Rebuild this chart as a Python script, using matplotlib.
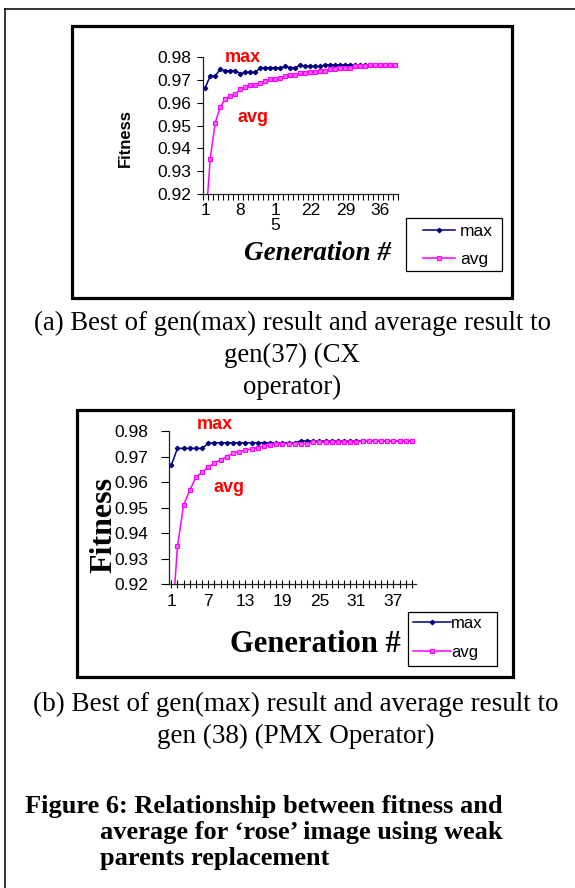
import matplotlib
matplotlib.use("Agg")
import matplotlib.pyplot as plt
import matplotlib.patches as mpatches
import matplotlib.lines as mlines
from matplotlib.ticker import FixedLocator, FixedFormatter

W, H = 575, 888

# ---- data: (a) CX operator ----
cx_gen = list(range(1, 40))
cx_max = [0.9665, 0.9716, 0.9716, 0.9745, 0.9739, 0.9739, 0.9739, 0.9726, 0.9732, 0.9732,
          0.9732, 0.9752, 0.9752, 0.9752, 0.9752, 0.9752, 0.9758, 0.9752, 0.9752, 0.9764,
          0.9758, 0.9758, 0.9758, 0.9758, 0.9764, 0.9764, 0.9764, 0.9764, 0.9764, 0.9764,
          0.9764, 0.9764, 0.9764, 0.9764, 0.9764, 0.9764, 0.9764, 0.9764, 0.9764]
cx_avg = [0.9050, 0.9354, 0.9513, 0.9579, 0.9616, 0.9629, 0.9636, 0.9659, 0.9666, 0.9678,
          0.9678, 0.9684, 0.9696, 0.9701, 0.9701, 0.9707, 0.9714, 0.9720, 0.9720, 0.9727,
          0.9727, 0.9733, 0.9733, 0.9739, 0.9739, 0.9745, 0.9745, 0.9752, 0.9752, 0.9752,
          0.9758, 0.9758, 0.9758, 0.9764, 0.9764, 0.9764, 0.9764, 0.9764, 0.9764]
cx_ticks = [1, 8, 15, 22, 29, 36]
cx_ticklabels = ["1", "8", "1\n5", "22", "29", "36"]

# ---- data: (b) PMX operator ----
pmx_gen = list(range(1, 41))
pmx_max = [0.9666, 0.9732, 0.9732, 0.9732, 0.9732, 0.9732, 0.9752, 0.9754, 0.9754, 0.9754,
           0.9754, 0.9754, 0.9754, 0.9754, 0.9754, 0.9754, 0.9754, 0.9754, 0.9754, 0.9754,
           0.9754, 0.9761, 0.9761, 0.9761, 0.9761, 0.9761, 0.9761, 0.9761, 0.9761, 0.9761,
           0.9761, 0.9761, 0.9761, 0.9761, 0.9761, 0.9761, 0.9761, 0.9761, 0.9761, 0.9761]
pmx_avg = [0.8995, 0.9348, 0.9511, 0.9568, 0.9620, 0.9638, 0.9660, 0.9674, 0.9687, 0.9700,
           0.9713, 0.9719, 0.9725, 0.9730, 0.9735, 0.9741, 0.9746, 0.9749, 0.9750, 0.9750,
           0.9750, 0.9750, 0.9750, 0.9756, 0.9756, 0.9756, 0.9756, 0.9756, 0.9756, 0.9756,
           0.9756, 0.9762, 0.9762, 0.9762, 0.9762, 0.9762, 0.9762, 0.9762, 0.9762, 0.9762]
pmx_ticks = [1, 7, 13, 19, 25, 31, 37]
pmx_ticklabels = ["1", "7", "13", "19", "25", "31", "37"]

y_ticks = [0.92, 0.93, 0.94, 0.95, 0.96, 0.97, 0.98]
y_ticklabels = ["0.92", "0.93", "0.94", "0.95", "0.96", "0.97", "0.98"]

MAX_COLOR = "#000080"
AVG_COLOR = "#ff00ff"
SANS = "Liberation Sans"
SERIF = "Liberation Serif"


def fx(x):
    return x / W


def fy(y):
    return 1 - y / H


def add_axes_px(fig, left, top, right, bottom):
    return fig.add_axes([fx(left), fy(bottom), (right - left) / W, (bottom - top) / H])


def frame(fig, left, top, right, bottom, lw):
    rect = mpatches.Rectangle((fx(left), fy(bottom)), (right - left) / W, (bottom - top) / H,
                              transform=fig.transFigure, fill=False, edgecolor="black",
                              linewidth=lw)
    fig.patches.append(rect)


def draw_series(ax, gen, mx, av):
    ax.plot(gen, mx, color=MAX_COLOR, lw=1.1, marker="D", ms=2.2, label="max")
    ax.plot(gen, av, color=AVG_COLOR, lw=1.1, marker="s", ms=3.0, mfc="#ff66ff",
            mec=AVG_COLOR, mew=0.8, label="avg")
    ax.set_ylim(0.92, 0.98)
    ax.spines["top"].set_visible(False)
    ax.spines["right"].set_visible(False)
    for s in ("left", "bottom"):
        ax.spines[s].set_linewidth(0.9)
        ax.spines[s].set_color("#222222")
    ax.yaxis.set_major_locator(FixedLocator(y_ticks))
    ax.yaxis.set_major_formatter(FixedFormatter(y_ticklabels))
    ax.patch.set_alpha(0)


def legend_px(ax, x_line, y_first, size, handlelength, textpad, spacing):
    # legend without its own frame; the box is drawn separately
    leg = ax.legend(loc="upper left", bbox_to_anchor=(fx(x_line), fy(y_first)),
                    bbox_transform=ax.figure.transFigure, frameon=False,
                    prop={"family": SANS, "size": size}, handlelength=handlelength,
                    handletextpad=textpad, labelspacing=spacing, borderpad=0,
                    borderaxespad=0)
    return leg


fig = plt.figure(figsize=(W / 100, H / 100), dpi=100)

# outer page lines (top and left only visible)
fig.add_artist(mlines.Line2D([fx(4.5), fx(575)], [fy(9), fy(9)], color="#111111", lw=1.2,
                             transform=fig.transFigure))
fig.add_artist(mlines.Line2D([fx(4.5), fx(4.5)], [fy(9), fy(888)], color="#111111", lw=1.2,
                             transform=fig.transFigure))

# ================= chart (a) =================
frame(fig, 71.7, 25.7, 512.3, 298.3, 2.3)
ax1 = add_axes_px(fig, 202.7, 56.7, 398, 194.3)
draw_series(ax1, cx_gen, cx_max, cx_avg)
ax1.set_xlim(0.5, 39.5)
ax1.xaxis.set_major_locator(FixedLocator(cx_ticks))
ax1.xaxis.set_major_formatter(FixedFormatter(cx_ticklabels))
ax1.xaxis.set_minor_locator(FixedLocator([g + 0.5 for g in [0] + cx_gen]))
ax1.tick_params(axis="x", which="major", length=0, pad=6, labelsize=12.5)
ax1.tick_params(axis="x", which="minor", length=4, width=0.8, direction="out")
ax1.tick_params(axis="y", length=4, width=0.8, direction="out", pad=4.5, labelsize=12.5)
for lab in ax1.get_xticklabels() + ax1.get_yticklabels():
    lab.set_family(SANS)
    lab.set_linespacing(1.0)

fig.text(fx(125), fy(138), "Fitness", rotation=90, ha="center", va="center",
         family=SANS, fontweight="bold", fontsize=12)
fig.text(fx(243.3), fy(58), "max", ha="center", va="center", color="red",
         family=SANS, fontweight="bold", fontsize=13)
fig.text(fx(252.7), fy(117), "avg", ha="center", va="center", color="red",
         family=SANS, fontweight="bold", fontsize=13)
fig.text(fx(318), fy(253), "Generation #", ha="center", va="center",
         family=SERIF, fontweight="bold", fontstyle="italic", fontsize=19.5)

frame(fig, 405.7, 217.7, 502.3, 271, 0.9)
legend_px(ax1, 422.7, 224, 12.5, 1.85, 0.3, 0.72)

# ================= caption (a) =================
for text, y in [("(a) Best of gen(max) result and average result to", 323),
                ("gen(37) (CX", 355), ("operator)", 387)]:
    fig.text(fx(292), fy(y), text, ha="center", va="center", family=SERIF, fontsize=19.3)

# ================= chart (b) =================
frame(fig, 76.7, 410, 512.7, 677.3, 2.3)
ax2 = add_axes_px(fig, 169.3, 431, 415.7, 584.3)
draw_series(ax2, pmx_gen, pmx_max, pmx_avg)
ax2.set_xlim(0.68, 40.6)
ax2.xaxis.set_major_locator(FixedLocator(pmx_ticks))
ax2.xaxis.set_major_formatter(FixedFormatter(pmx_ticklabels))
ax2.xaxis.set_minor_locator(FixedLocator(pmx_gen))
ax2.tick_params(axis="x", which="major", length=6, width=0.8, direction="inout",
                pad=4, labelsize=12.5)
ax2.tick_params(axis="x", which="minor", length=6, width=0.8, direction="inout")
ax2.tick_params(axis="y", length=6, width=0.8, direction="out", pad=9, labelsize=12.5)
for lab in ax2.get_xticklabels() + ax2.get_yticklabels():
    lab.set_family(SANS)

fig.text(fx(215), fy(424), "max", ha="center", va="center", color="red",
         family=SANS, fontweight="bold", fontsize=13)
fig.text(fx(228.7), fy(487), "avg", ha="center", va="center", color="red",
         family=SANS, fontweight="bold", fontsize=13)
fig.text(fx(104), fy(525), "Fitness", rotation=90, ha="center", va="center",
         family=SERIF, fontweight="bold", fontsize=23)
fig.text(fx(315), fy(645), "Generation #", ha="center", va="center",
         family=SERIF, fontweight="bold", fontsize=22)

frame(fig, 408.3, 612.3, 496.7, 665.7, 0.9)
legend_px(ax2, 413, 616, 12, 2.25, 0.05, 0.85)

# ================= caption (b) and figure caption =================
fig.text(fx(296), fy(704), "(b) Best of gen(max) result and average result to",
         ha="center", va="center", family=SERIF, fontsize=19.5)
fig.text(fx(296), fy(736), "gen (38) (PMX Operator)", ha="center", va="center",
         family=SERIF, fontsize=19.5)

fig.text(fx(25), fy(806), "Figure 6: Relationship between fitness and", ha="left",
         va="center", family=SERIF, fontweight="bold", fontsize=19)
fig.text(fx(100), fy(832), "average for \u2018rose\u2019 image using weak", ha="left",
         va="center", family=SERIF, fontweight="bold", fontsize=19)
fig.text(fx(100), fy(858), "parents replacement", ha="left", va="center",
         family=SERIF, fontweight="bold", fontsize=19)

fig.savefig("out.png", dpi=100)
